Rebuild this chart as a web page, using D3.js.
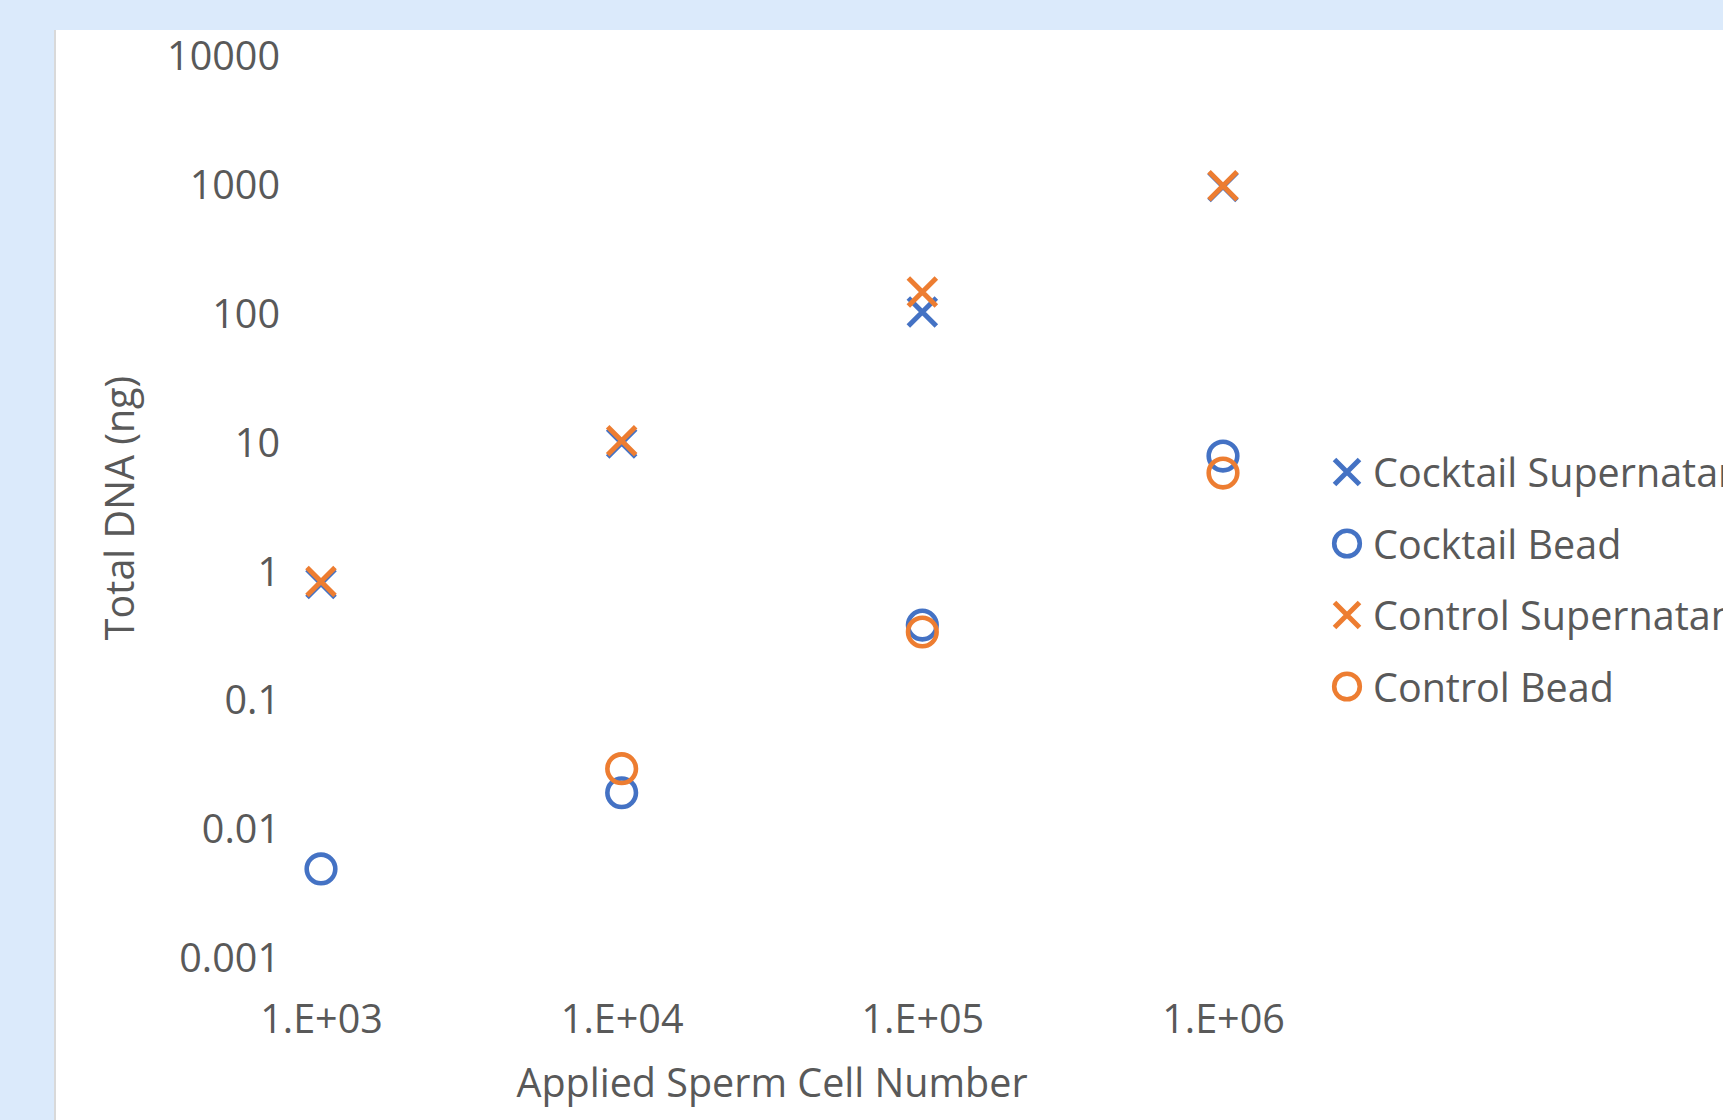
<!DOCTYPE html>
<html>
<head>
<meta charset="utf-8">
<script src="https://cdn.jsdelivr.net/npm/d3@7"></script>
<style>
    body { margin: 0; background: #dbeafb; overflow: hidden; }
    svg { display: block; }
</style>
</head>
<body>
<div id="chart"></div>
<script>
// data
var cellNumbers = [1e3, 1e4, 1e5, 1e6];
var cocktailSupernatant = [0.82, 10.1, 105, 990];
var cocktailBead = [0.005, 0.0195, 0.39, 8.0];
var controlSupernatant = [0.85, 10.5, 150, 1000];
var controlBead = [null, 0.03, 0.345, 5.9];

var yTicks = [0.001, 0.01, 0.1, 1, 10, 100, 1000, 10000];
var xTickLabels = ["1.E+03", "1.E+04", "1.E+05", "1.E+06"];

var seriesNames = ["Cocktail Supernatant", "Cocktail Bead", "Control Supernatant", "Control Bead"];

function init() {
    var w = 1723;
    var h = 1120;
    var blue = "#4472c4";
    var orange = "#ed7d31";
    var textColor = "#595959";
    var font = "'Open Sans', 'Noto Sans', sans-serif";
    var fontSize = "39.5px";

    var series = [
        { name: seriesNames[0], values: cocktailSupernatant, color: blue, shape: "x" },
        { name: seriesNames[1], values: cocktailBead, color: blue, shape: "o" },
        { name: seriesNames[2], values: controlSupernatant, color: orange, shape: "x" },
        { name: seriesNames[3], values: controlBead, color: orange, shape: "o" }
    ];

    var svg = d3.select("#chart")
                .append("svg")
                .attr("width", w)
                .attr("height", h);

    //white chart panel on light blue page
    svg.append("rect")
        .attr("x", 54)
        .attr("y", 30)
        .attr("width", w)
        .attr("height", h)
        .attr("fill", "#d9d9d9");
    svg.append("rect")
        .attr("x", 56)
        .attr("y", 30)
        .attr("width", w)
        .attr("height", h)
        .attr("fill", "white");

    var x = d3.scaleLog()
                .domain([1e3, 1e6])
                .range([321, 1223]);

    var y = d3.scaleLog()
                .domain([0.001, 10000])
                .range([959, 57]);

    //y axis, labels only
    var yAxis = d3.axisLeft(y)
                    .tickValues(yTicks)
                    .tickFormat(function(d) { return String(d); })
                    .tickSize(0)
                    .tickPadding(12);

    var gy = svg.append("g")
                .attr("transform", "translate(292,0)")
                .call(yAxis);

    //x axis, labels only
    var xAxis = d3.axisBottom(x)
                    .tickValues(cellNumbers)
                    .tickFormat(function(d, i) { return xTickLabels[i]; })
                    .tickSize(0)
                    .tickPadding(26);

    var gx = svg.append("g")
                .attr("transform", "translate(0,979)")
                .call(xAxis);

    [gx, gy].forEach(function(g) {
        g.select(".domain").remove();
        g.selectAll("text")
            .style("font-family", font)
            .style("font-size", fontSize)
            .attr("fill", textColor);
    });

    //axis titles
    svg.append("text")
        .attr("x", 772)
        .attr("y", 1082)
        .attr("text-anchor", "middle")
        .attr("dominant-baseline", "central")
        .style("font-family", font)
        .style("font-size", fontSize)
        .attr("fill", textColor)
        .text("Applied Sperm Cell Number");

    svg.append("text")
        .attr("transform", "translate(119,508) rotate(-90)")
        .attr("text-anchor", "middle")
        .attr("dominant-baseline", "central")
        .style("font-family", font)
        .style("font-size", fontSize)
        .attr("fill", textColor)
        .text("Total DNA (ng)");

    //marker drawing
    function drawMarker(g, shape, color, size) {
        if (shape === "x") {
            g.append("path")
                .attr("d", "M" + (-size) + "," + (-size) + "L" + size + "," + size +
                           "M" + (-size) + "," + size + "L" + size + "," + (-size))
                .attr("stroke", color)
                .attr("stroke-width", 5)
                .attr("fill", "none");
        } else {
            g.append("circle")
                .attr("r", size)
                .attr("stroke", color)
                .attr("stroke-width", 4.6)
                .attr("fill", "none");
        }
    }

    series.forEach(function(s) {
        var pts = s.values.map(function(v, i) { return { x: cellNumbers[i], v: v }; })
                          .filter(function(d) { return d.v != null; });
        svg.append("g")
            .selectAll("g")
            .data(pts)
            .enter()
            .append("g")
            .attr("transform", function(d) {
                return "translate(" + x(d.x) + "," + y(d.v) + ")";
            })
            .each(function() {
                var sz = s.shape === "x" ? 14 : 14.3;
                drawMarker(d3.select(this), s.shape, s.color, sz);
            });
    });

    //legend
    var legend = svg.append("g")
                    .attr("transform", "translate(1347,472)");

    var rows = legend.selectAll("g")
                    .data(series)
                    .enter()
                    .append("g")
                    .attr("transform", function(d, i) { return "translate(0," + (i * 71.5) + ")"; });

    rows.each(function(d) {
        drawMarker(d3.select(this), d.shape, d.color, d.shape === "x" ? 12.5 : 12.8);
    });

    rows.append("text")
        .attr("x", 26)
        .attr("y", 0)
        .attr("dominant-baseline", "central")
        .style("font-family", font)
        .style("font-size", fontSize)
        .attr("fill", textColor)
        .text(function(d) { return d.name; });
}

window.onload = init;
</script>
</body>
</html>
